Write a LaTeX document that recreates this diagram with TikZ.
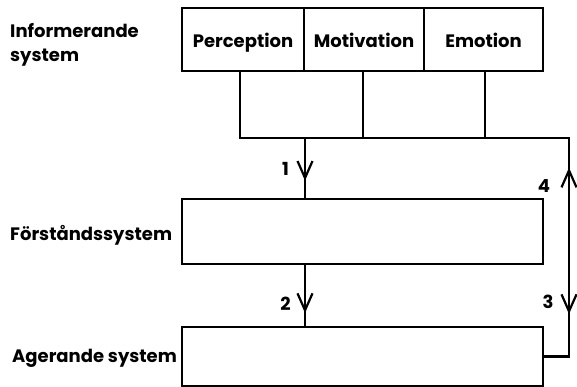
\documentclass[tikz,border=0pt]{standalone}
\usepackage{fontspec}
\setmainfont{Poppins}
\usetikzlibrary{decorations.markings}
\newcommand{\lblfont}{\fontsize{18}{24}\selectfont\bfseries}
\tikzset{
  wire/.style={line width=2.7pt},
  box/.style={draw, line width=2.7pt, rectangle, inner sep=0pt},
  tbox/.style={box, font=\lblfont, text height=19pt, text depth=4pt, minimum height=63pt},
  lbl/.style={font=\lblfont, inner sep=0pt},
  vee/.style={line width=2.2pt, line join=miter},
}
\begin{document}
\begin{tikzpicture}[x=1pt, y=-1pt]
\useasboundingbox (0,0) rectangle (577,386);
% top row
\node[tbox, minimum width=122pt] (perc) at (243,39.5) {Perception};
\node[tbox, minimum width=120pt] (motiv) at (364,39.5) {Motivation};
\node[tbox, minimum width=119pt] (emo) at (483.5,39.5) {Emotion};
% middle and bottom boxes
\node[box, minimum width=361pt, minimum height=65pt] (fb) at (362.5,231.5) {};
\node[box, minimum width=361pt, minimum height=59pt] (ag) at (362.5,356.5) {};
% side labels
\node[lbl, anchor=north west, align=left] (inf) at (10,23) {Informerande\\system};
\node[lbl, anchor=base west] (forst) at (10,240) {Förståndssystem};
\node[lbl, anchor=base west] (agl) at (12,362) {Agerande system};
% coordinates
\coordinate (b1) at (240,138);
\coordinate (b2) at (363,138);
\coordinate (b3) at (485,138);
\coordinate (a1) at (305,138);
\coordinate (cr) at (569,138);
% bus with loop to Agerande
\draw[wire, postaction={decorate, decoration={markings,
   mark=at position 427pt with {\draw[vee] (17pt,7.5pt) -- (0pt,0pt) -- (17pt,-7.5pt);},
   mark=at position 568pt with {\draw[vee] (-17pt,7.5pt) -- (0pt,0pt) -- (-17pt,-7.5pt);}}}]
  (b1 |- perc.south) -- (b1) -- (cr) -- (cr |- ag.east) -- (ag.east);
\draw[wire] (b2 |- motiv.south) -- (b2);
\draw[wire] (b3 |- emo.south) -- (b3);
% arrow 1
\draw[wire, postaction={decorate, decoration={markings,
   mark=at position 40pt with {\draw[vee] (-17pt,7.5pt) -- (0pt,0pt) -- (-17pt,-7.5pt);}}}]
  (a1) -- (a1 |- fb.north);
% arrow 2
\draw[wire, postaction={decorate, decoration={markings,
   mark=at position 45pt with {\draw[vee] (-17pt,7.5pt) -- (0pt,0pt) -- (-17pt,-7.5pt);}}}]
  (a1 |- fb.south) -- (a1 |- ag.north);
% numbers
\node[lbl, anchor=base] (n1) at (285.5,175) {1};
\node[lbl, anchor=base] (n2) at (285.5,310) {2};
\node[lbl, anchor=base] (n3) at (548,308) {3};
\node[lbl, anchor=base] (n4) at (544,192) {4};
\end{tikzpicture}
\end{document}
